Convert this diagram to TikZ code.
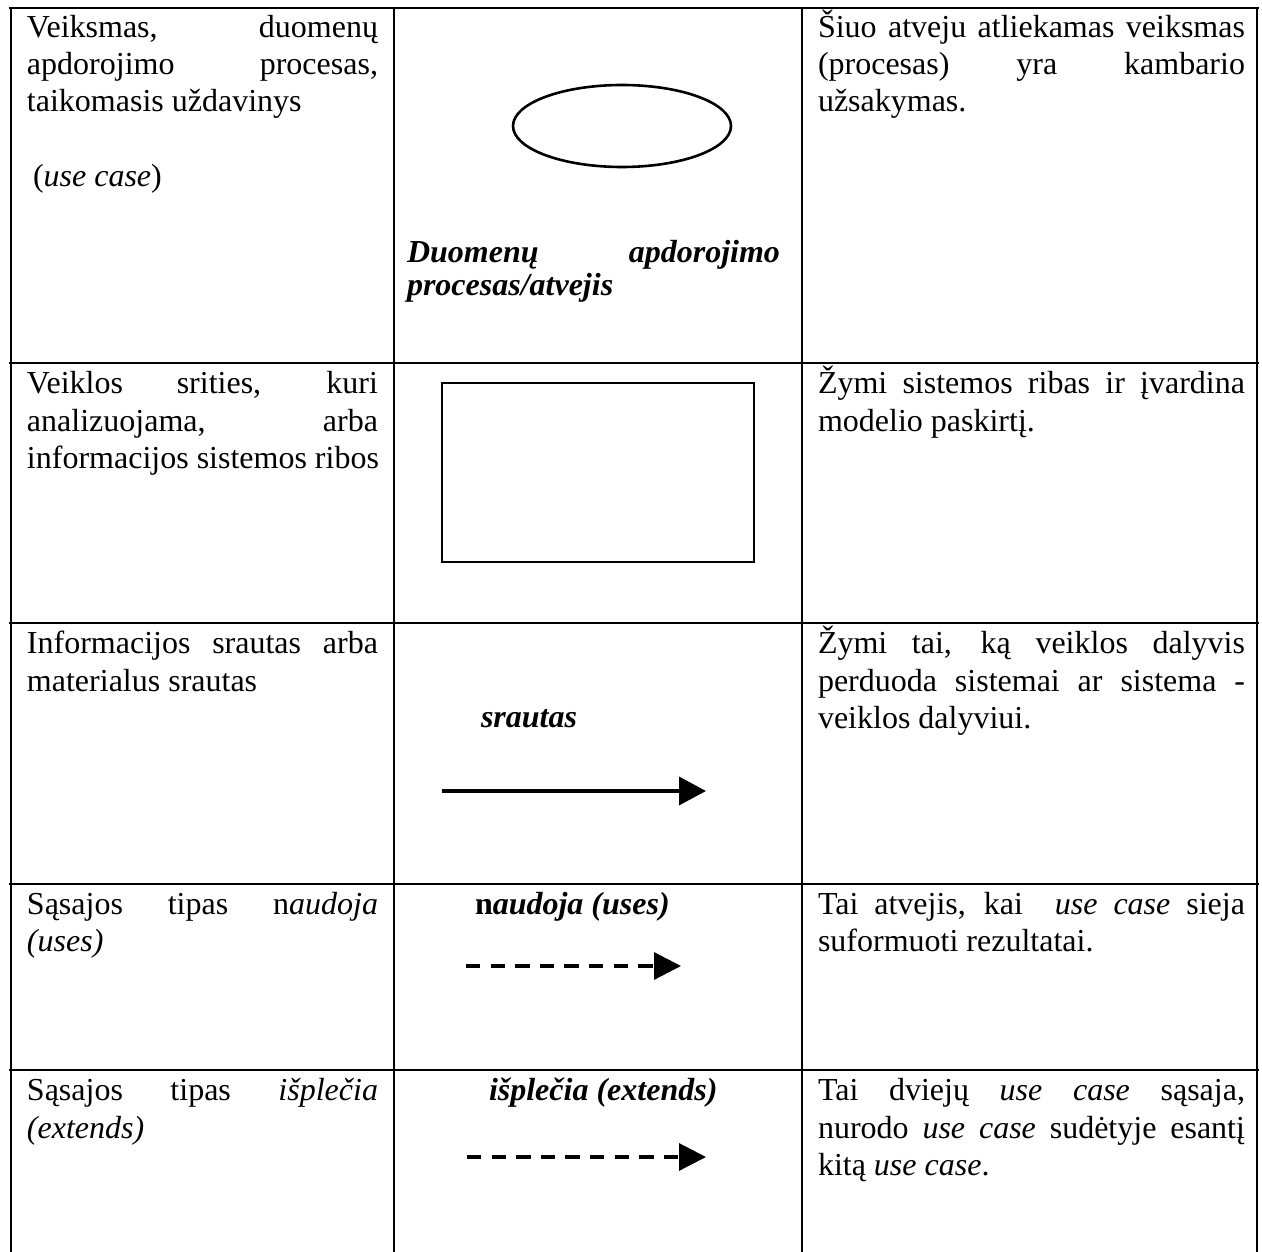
\documentclass[tikz,border=0pt]{standalone}
\usepackage{fontspec}
\setmainfont{Liberation Serif}
\usetikzlibrary{arrows.meta,shapes.geometric}

% justified single lines for each column
\newcommand{\jA}[1]{\makebox[351pt][s]{#1}}
\newcommand{\jB}[1]{\makebox[373pt][s]{#1}}
\newcommand{\jC}[1]{\makebox[427pt][s]{#1}}

\begin{document}
\begin{tikzpicture}[x=1pt,y=-1pt,
  rule/.style={line width=2.8pt, line cap=rect},
  txt/.style={anchor=base west, inner sep=0pt, outer sep=0pt,
    font=\fontsize{32pt}{37.5pt}\selectfont},
  bi/.style={txt, font=\fontsize{32pt}{37.5pt}\selectfont\bfseries\itshape},
  symline/.style={line width=2.6pt},
  flow/.style={line width=3.5pt, -{Triangle[length=27pt,width=28pt]}},
  link/.style={line width=3.2pt, dash pattern=on 14.3pt off 10.3pt,
    -{Triangle[length=27pt,width=27pt]}}]

\useasboundingbox (0,0) rectangle (1262,1252);

% table rules
\foreach \yy in {8,363,623,884,1070}
  \draw[rule] (10,\yy) -- (1258,\yy);
\foreach \xx in {11,394,802,1257}
  \draw[rule] (\xx,8) -- (\xx,1252);

% ---- row 1: use case
\node[txt] (a1) at (27,38)  {\jA{Veiksmas, duomenų}};
\node[txt] (a2) at (27,75)  {\jA{apdorojimo procesas,}};
\node[txt] (a3) at (27,112) {taikomasis uždavinys};
\node[txt] (a4) at (33,187) {(\textit{use case})};

\node[draw, symline, ellipse, minimum width=218pt, minimum height=82pt,
      inner sep=0pt] (ucase) at (622,126) {};
\node[bi] (b1) at (407,263) {\jB{Duomenų apdorojimo}};
\node[bi] (b2) at (407,296) {procesas/atvejis};

\node[txt] (c1) at (818,38)  {\jC{Šiuo atveju atliekamas veiksmas}};
\node[txt] (c2) at (818,75)  {\jC{(procesas) yra kambario}};
\node[txt] (c3) at (818,112) {užsakymas.};

% ---- row 2: system boundary
\node[txt] (d1) at (27,393) {\jA{Veiklos srities, kuri}};
\node[txt] (d2) at (27,431) {\jA{analizuojama, arba}};
\node[txt] (d3) at (27,468) {informacijos sistemos ribos};

\node[draw, symline, rectangle, minimum width=312pt, minimum height=179pt,
      inner sep=0pt] (bound) at (598,472.5) {};

\node[txt] (f1) at (818,393) {\jC{Žymi sistemos ribas ir įvardina}};
\node[txt] (f2) at (818,431) {modelio paskirtį.};

% ---- row 3: flow
\node[txt] (g1) at (27,653) {\jA{Informacijos srautas arba}};
\node[txt] (g2) at (27,691) {materialus srautas};

\node[bi] (h1) at (481,727) {srautas};
\coordinate (fs) at (442,791);
\coordinate (fe) at (706,791);
\draw[flow] (fs) -- (fe);

\node[txt] (k1) at (818,653) {\jC{Žymi tai, ką veiklos dalyvis}};
\node[txt] (k2) at (818,691) {\jC{perduoda sistemai ar sistema -}};
\node[txt] (k3) at (818,728) {veiklos dalyviui.};

% ---- row 4: uses
\node[txt] (m1) at (27,914) {\jA{Sąsajos tipas n\textit{audoja}}};
\node[txt] (m2) at (27,951) {\textit{(uses)}};

\node[txt] (n1) at (475,914) {\textbf{n}\textbf{\textit{audoja (uses)}}};
\coordinate (us) at (466,966);
\coordinate (ue) at (681,966);
\draw[link] (us) -- (ue);

\node[txt] (p1) at (818,914) {\jC{Tai atvejis, kai\ \ \textit{use case} sieja}};
\node[txt] (p2) at (818,951) {suformuoti rezultatai.};

% ---- row 5: extends
\node[txt] (q1) at (27,1100) {\jA{Sąsajos tipas \textit{išplečia}}};
\node[txt] (q2) at (27,1138) {\textit{(extends)}};

\node[bi] (r1) at (489,1100) {išplečia (extends)};
\coordinate (es) at (467,1157);
\coordinate (ee) at (706,1157);
\draw[link] (es) -- (ee);

\node[txt] (s1) at (818,1100) {\jC{Tai dviejų \textit{use case} sąsaja,}};
\node[txt] (s2) at (818,1138) {\jC{nurodo \textit{use case} sudėtyje esantį}};
\node[txt] (s3) at (818,1175) {kitą \textit{use case}.};

\end{tikzpicture}
\end{document}
